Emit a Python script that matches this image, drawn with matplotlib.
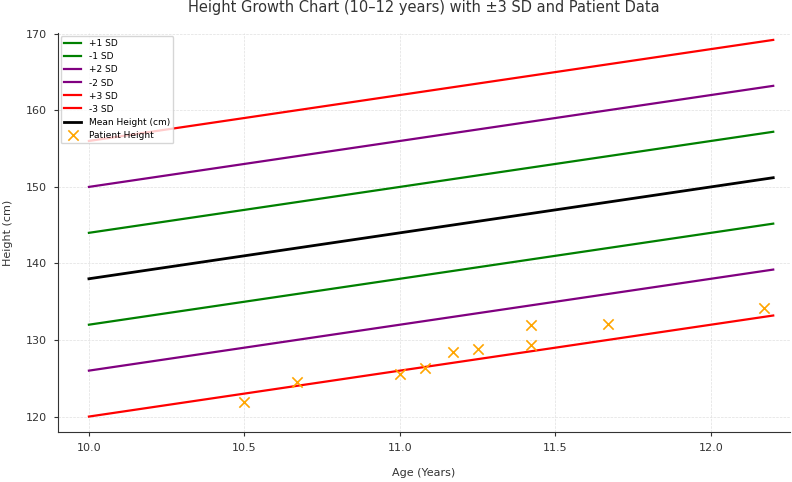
import numpy as np
import matplotlib.pyplot as plt

# reference curves (cm)
ages = [10.0, 12.2]
mean_height = [138.0, 151.2]
sd = 6.0

# patient measurements
patient_age = [10.5, 10.67, 11.0, 11.08, 11.17, 11.25, 11.42, 11.42, 11.67, 12.17]
patient_height = [121.9, 124.5, 125.6, 126.3, 128.4, 128.8, 131.9, 129.4, 132.1, 134.2]

bands = [(1, 'green'), (2, 'purple'), (3, 'red')]

fig = plt.figure(figsize=(7.92, 4.82), dpi=100)
ax = fig.add_axes([0.073, 0.104, 0.9245, 0.8275])

mean = np.array(mean_height)
for k, col in bands:
    ax.plot(ages, mean + k * sd, color=col, lw=1.6, label=f'+{k} SD')
    ax.plot(ages, mean - k * sd, color=col, lw=1.6, label=f'-{k} SD')
ax.plot(ages, mean, color='black', lw=2, label='Mean Height (cm)')
ax.scatter(patient_age, patient_height, marker='x', color='orange', s=55,
           linewidths=1.2, label='Patient Height', zorder=3)

ax.set_xlim(9.9, 12.254)
ax.set_ylim(118.0, 170.1)
ax.set_xticks([10.0, 10.5, 11.0, 11.5, 12.0])
ax.set_yticks([120, 130, 140, 150, 160, 170])
ax.grid(True, ls='--', lw=0.5, color='#e0e0e0')
ax.set_axisbelow(True)
for s in ['top', 'right']:
    ax.spines[s].set_visible(False)
for s in ['left', 'bottom']:
    ax.spines[s].set_color('#333333')
ax.tick_params(colors='#333333', labelsize=8, length=3, pad=5)

ax.set_title('Height Growth Chart (10–12 years) with ±3 SD and Patient Data',
             fontsize=10.5, color='#333333', pad=15)
ax.set_xlabel('Age (Years)', fontsize=8, color='#333333', labelpad=11)
ax.set_ylabel('Height (cm)', fontsize=8, color='#333333', labelpad=9)
ax.legend(loc='upper left', fontsize=6.5, frameon=True, borderaxespad=0.3,
          handlelength=1.9, labelspacing=0.45)

fig.savefig('out.png')
